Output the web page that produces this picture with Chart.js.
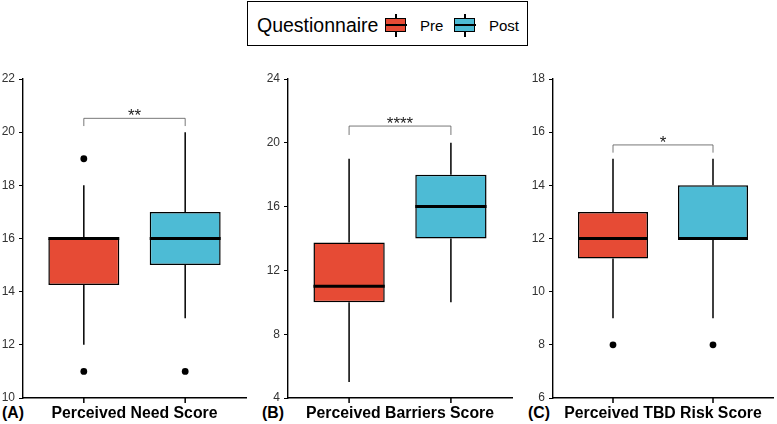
<!DOCTYPE html>
<html>
<head>
<meta charset="utf-8">
<script src="https://cdn.jsdelivr.net/npm/chart.js@4.4.1/dist/chart.umd.min.js"></script>
<style>
  body { margin: 0; width: 777px; height: 424px; position: relative; overflow: hidden; background: #fff;
         font-family: "Liberation Sans", Arial, sans-serif; color: #000; }
  canvas { position: absolute; top: 60px; }
  .tag { position: absolute; top: 404px; font-size: 15.8px; font-weight: bold; line-height: 18px; }
  #legend { position: absolute; left: 247px; top: 1px; width: 279px; height: 43px; border: 1.5px solid #000; }
  #legend span { position: absolute; line-height: 20px; }
  .key { position: absolute; top: 12px; width: 22px; height: 23px; }
  .key .wh { position: absolute; left: 10px; top: 0; width: 1.5px; height: 23px; background: #000; }
  .key .bx { position: absolute; left: 0; top: 4px; width: 19px; height: 12px; border: 1.5px solid #000; }
  .key .md { position: absolute; left: 0; top: 10px; width: 22px; height: 2px; background: #000; }
</style>
</head>
<body>
<div id="legend">
  <span style="left:9px; top:13px; font-size:19.5px;">Questionnaire</span>
  <div class="key" style="left:137px;"><div class="wh"></div><div class="bx" style="background:#E64B35"></div><div class="md"></div></div>
  <span style="left:172px; top:14px; font-size:15px;">Pre</span>
  <div class="key" style="left:206px;"><div class="wh"></div><div class="bx" style="background:#4DBBD5"></div><div class="md"></div></div>
  <span style="left:241px; top:14px; font-size:15px;">Post</span>
</div>
<div class="tag" style="left:2px;">(A)</div>
<div class="tag" style="left:262px;">(B)</div>
<div class="tag" style="left:528px;">(C)</div>

<script>
// box stats per panel: [lower whisker, Q1, median, Q3, upper whisker]
const panelTitles = ["Perceived Need Score", "Perceived Barriers Score", "Perceived TBD Risk Score"];
const groups = ["Pre", "Post"];
const preBoxes = [[12, 14.25, 16, 16, 18], [5, 10, 11, 13.75, 19], [9, 11.25, 12, 13, 15]];
const postBoxes = [[13, 15, 16, 17, 20], [10, 14, 16, 18, 20], [9, 12, 12, 14, 15]];
const preOutliers = [[11, 19], [], [8]];
const postOutliers = [[11], [], [8]];
const yMin = [10, 4, 6];
const yMax = [22, 24, 18];
const yStep = [2, 4, 2];
const sigLabels = ["**", "****", "*"];
const sigTops = [20.52, 21.05, 15.52];
const sigLegs = [20.23, 20.49, 15.23];

const preColor = "#E64B35";
const postColor = "#4DBBD5";

// layout of the three canvases
const canvasLeft = [-20, 250, 515];
const canvasWidth = [270, 265, 262];
const yAxisWidth = [43, 38, 38];
const padRight = [3, 3, 0];

Chart.defaults.font.family = '"Liberation Sans", Arial, sans-serif';

function makeBoxPlugin(p) {
  const boxes = [preBoxes[p], postBoxes[p]];
  return {
    id: "boxParts" + p,
    beforeDatasetsDraw(chart) {
      const { ctx, scales: { x, y } } = chart;
      ctx.save();
      ctx.strokeStyle = "#000";
      ctx.lineWidth = 1.5;
      boxes.forEach((b, i) => {
        const px = x.getPixelForValue(i + 1);
        ctx.beginPath();
        ctx.moveTo(px, y.getPixelForValue(b[0]));
        ctx.lineTo(px, y.getPixelForValue(b[1]));
        ctx.moveTo(px, y.getPixelForValue(b[3]));
        ctx.lineTo(px, y.getPixelForValue(b[4]));
        ctx.stroke();
      });
      ctx.restore();
    },
    afterDatasetsDraw(chart) {
      const { ctx, scales: { x, y } } = chart;
      const bars = chart.getDatasetMeta(0).data;
      ctx.save();
      // medians
      ctx.strokeStyle = "#000";
      ctx.lineWidth = 3;
      boxes.forEach((b, i) => {
        const half = bars[i].width / 2;
        const py = y.getPixelForValue(b[2]);
        ctx.beginPath();
        ctx.moveTo(bars[i].x - half, py);
        ctx.lineTo(bars[i].x + half, py);
        ctx.stroke();
      });
      // significance bracket
      const x1 = x.getPixelForValue(1), x2 = x.getPixelForValue(2);
      const yt = y.getPixelForValue(sigTops[p]), yl = y.getPixelForValue(sigLegs[p]);
      ctx.strokeStyle = "#555";
      ctx.lineWidth = 0.8;
      ctx.beginPath();
      ctx.moveTo(x1, yl);
      ctx.lineTo(x1, yt);
      ctx.lineTo(x2, yt);
      ctx.lineTo(x2, yl);
      ctx.stroke();
      ctx.fillStyle = "#222";
      ctx.font = '17px "Liberation Sans", Arial, sans-serif';
      ctx.textAlign = "center";
      ctx.textBaseline = "alphabetic";
      ctx.fillText(sigLabels[p], (x1 + x2) / 2, yt + 3);
      ctx.restore();
    },
    afterDraw(chart) {
      // category ticks under the x axis
      const { ctx, scales: { x } } = chart;
      ctx.save();
      ctx.strokeStyle = "#000";
      ctx.lineWidth = 1.5;
      ctx.beginPath();
      [1, 2].forEach(v => {
        const px = x.getPixelForValue(v);
        ctx.moveTo(px, x.top);
        ctx.lineTo(px, x.top + 5);
      });
      ctx.stroke();
      ctx.restore();
    }
  };
}

for (let p = 0; p < 3; p++) {
  const canvas = document.createElement("canvas");
  canvas.width = canvasWidth[p];
  canvas.height = 364;
  canvas.style.left = canvasLeft[p] + "px";
  document.body.appendChild(canvas);

  const outliers = [];
  preOutliers[p].forEach(v => outliers.push({ x: 1, y: v }));
  postOutliers[p].forEach(v => outliers.push({ x: 2, y: v }));

  new Chart(canvas, {
    type: "bar",
    data: {
      datasets: [
        {
          label: "Questionnaire",
          data: [
            { x: 1, y: [preBoxes[p][1], preBoxes[p][3]] },
            { x: 2, y: [postBoxes[p][1], postBoxes[p][3]] }
          ],
          backgroundColor: [preColor, postColor],
          borderColor: "#000",
          borderWidth: 1.5,
          borderSkipped: false,
          barPercentage: 0.7,
          categoryPercentage: 1
        },
        {
          type: "scatter",
          label: "Outliers",
          data: outliers,
          pointRadius: 3.4,
          backgroundColor: "#000",
          borderWidth: 0
        }
      ]
    },
    options: {
      responsive: false,
      animation: false,
      events: [],
      layout: { padding: { top: 19, right: padRight[p], left: 0, bottom: 0 } },
      plugins: { legend: { display: false }, tooltip: { enabled: false } },
      scales: {
        x: {
          type: "linear",
          min: 0.4,
          max: 2.6,
          offset: false,
          afterBuildTicks: (s) => { s.ticks = [{ value: 1 }, { value: 2 }]; },
          afterFit: (s) => { s.height = 26; },
          ticks: { callback: () => "" },
          grid: { display: false },
          border: { display: true, color: "#000", width: 1.4 },
          title: {
            display: true,
            text: panelTitles[p],
            color: "#000",
            font: { size: 15.8, weight: "bold" },
            padding: { top: 0, bottom: 1 }
          }
        },
        y: {
          min: yMin[p],
          max: yMax[p],
          afterFit: (s) => { s.width = yAxisWidth[p]; },
          ticks: { stepSize: yStep[p], color: "#333", font: { size: 12 }, padding: 4 },
          grid: { drawOnChartArea: false, color: "#000", tickLength: 4 },
          border: { color: "#000", width: 1.4 }
        }
      }
    },
    plugins: [makeBoxPlugin(p)]
  });
}
</script>
</body>
</html>
